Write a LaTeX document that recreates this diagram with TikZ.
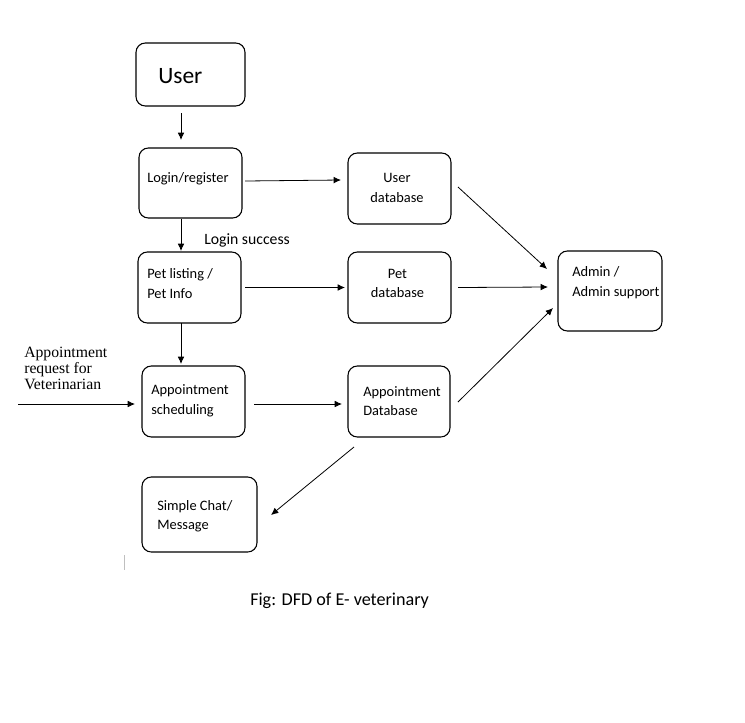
\documentclass[tikz,border=0pt]{standalone}
\usepackage{fontspec}
\setmainfont{Carlito}
\newfontfamily\reqfont{Liberation Serif}
\usetikzlibrary{arrows.meta}

\begin{document}
\begin{tikzpicture}[x=0.75pt,y=-0.75pt,
    box/.style={draw, line width=0.8pt, rounded corners=7pt, inner sep=0pt, outer sep=0pt,
        minimum width=77.25pt, minimum height=53.25pt},
    txt/.style={inner sep=0pt, font=\fontsize{10.8}{14.6}\selectfont},
    flow/.style={line width=0.6pt, -{Latex[length=5.5pt,width=5pt]}}]
    \useasboundingbox (0,0) rectangle (745,722);

    % boxes
    \node[box, minimum width=81.75pt, minimum height=47.25pt] (user) at (190.5,74.5) {};
    \node[box, minimum height=52.5pt] (login) at (190.5,183) {};
    \node[box] (udb) at (399.5,188.5) {};
    \node[box] (petl) at (189.5,287.5) {};
    \node[box] (petdb) at (399.5,287.5) {};
    \node[box, minimum width=78pt, minimum height=60pt] (admin) at (610,291) {};
    \node[box] (appt) at (193.5,401.5) {};
    \node[box, minimum width=76.5pt] (apdb) at (399,401.5) {};
    \node[box, minimum width=86.25pt, minimum height=56.25pt] (chat) at (199.5,514.5) {};

    % texts
    \node[txt, anchor=west, font=\fontsize{17.6}{20}\selectfont] (user-t) at (158,76) {User};
    \node[txt, anchor=west] (login-t) at (147,178.5) {Login/register};
    \node[txt, align=center] (udb-t) at (397,188) {User\\database};
    \node[txt, anchor=west, align=left] (petl-t) at (147,283.5) {Pet listing /\\Pet Info};
    \node[txt, align=center] (petdb-t) at (397.5,283.5) {Pet\\database};
    \node[txt, anchor=west, align=left] (admin-t) at (572,282.5) {Admin /\\Admin support};
    \node[txt, anchor=west, align=left] (appt-t) at (151,401) {Appointment\\scheduling};
    \node[txt, anchor=west, align=left] (apdb-t) at (363,401) {Appointment\\Database};
    \node[txt, anchor=west, align=left] (chat-t) at (157,516) {Simple Chat/\\Message};
    \node[txt, anchor=west, font=\fontsize{11.8}{14}\selectfont] (ok-t) at (204,240.5) {Login success};
    \node[txt, anchor=west, align=left, font=\reqfont\fontsize{11.8}{12}\selectfont] (req-t) at (24,368) {Appointment\\request for\\Veterinarian};
    \node[txt, anchor=west, font=\fontsize{13.6}{16}\selectfont] (fig-t) at (250,600.5) {Fig: DFD of E- veterinary};

    % flows
    \coordinate (req-in) at (18,404);
    \draw[flow] ([shift={(-9.5,7)}]user.south) -- ([shift={(-9.5,-8)}]login.north);
    \draw[flow] ([shift={(-9.5,1)}]login.south) -- ([shift={(-8.5,-1)}]petl.north);
    \draw[flow] ([shift={(-8.5,0)}]petl.south) -- ([shift={(-12.5,-2)}]appt.north);
    \draw[flow] ([shift={(3,-2)}]login.east) -- ([shift={(-7,-8.5)}]udb.west);
    \draw[flow] ([shift={(4,0)}]petl.east) -- ([shift={(-3,0)}]petdb.west);
    \draw[flow] ([shift={(9,2.5)}]appt.east) -- ([shift={(-6,2.5)}]apdb.west);
    \draw[flow] (req-in) -- ([shift={(-7,2.5)}]appt.west);
    \draw[flow] ([shift={(7,-1.5)}]udb.east) -- ([shift={(-11,-22)}]admin.west);
    \draw[flow] ([shift={(7,0)}]petdb.east) -- ([shift={(-10,-4)}]admin.west);
    \draw[flow] ([shift={(8,0.5)}]apdb.east) -- ([shift={(-5,17)}]admin.west);
    \draw[flow] ([shift={(-45,10)}]apdb.south) -- ([shift={(14,0.5)}]chat.east);

    \draw[gray!50, line width=0.6pt] (124,555) -- (124,570);
\end{tikzpicture}
\end{document}
